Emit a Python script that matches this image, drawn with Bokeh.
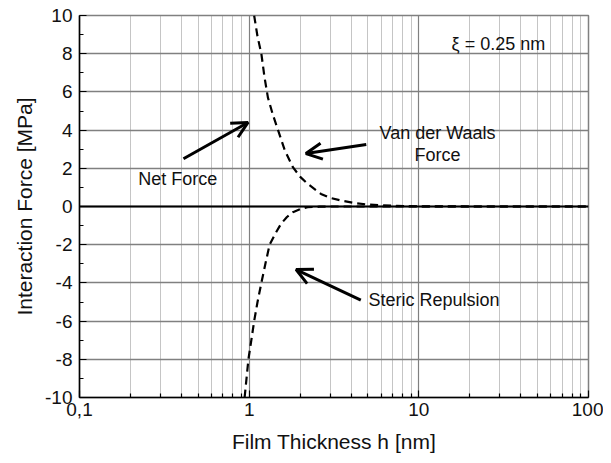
from bokeh.plotting import figure
from bokeh.models import (FixedTicker, CustomJSTickFormatter, Span, Arrow,
                          OpenHead, Label, Range1d)
from bokeh.embed import file_html
from bokeh.resources import INLINE

# ---- data ----
vdw_h = [1.07, 1.12, 1.18, 1.23, 1.29, 1.38, 1.48, 1.62, 1.81, 2.0, 2.21,
         2.65, 3.0, 3.48, 4.2, 5.0, 7.0, 10, 20, 50, 100]
vdw_f = [10.0, 8.9, 8.0, 6.8, 5.7, 4.8, 4.0, 2.95, 2.06, 1.55, 1.19,
         0.66, 0.45, 0.31, 0.18, 0.10, 0.04, 0.01, 0.0, 0.0, 0.0]
steric_h = [0.94, 0.99, 1.03, 1.07, 1.12, 1.18, 1.25, 1.32, 1.43, 1.54,
            1.67, 1.81, 2.0, 2.21, 2.6, 3.0, 5.0, 10, 100]
steric_f = [-10.0, -8.0, -7.0, -6.0, -5.0, -4.0, -2.95, -2.0, -1.4, -0.91,
            -0.55, -0.30, -0.14, -0.04, -0.01, 0.0, 0.0, 0.0, 0.0]

x_major = [0.1, 1, 10, 100]
x_minor = [0.2, 0.3, 0.4, 0.5, 0.6, 0.7, 0.8, 0.9,
           2, 3, 4, 5, 6, 7, 8, 9,
           20, 30, 40, 50, 60, 70, 80, 90]
y_major = [-10, -8, -6, -4, -2, 0, 2, 4, 6, 8, 10]
y_minor = [-9, -7, -5, -3, -1, 1, 3, 5, 7, 9]

FONT = "Liberation Sans"

p = figure(width=603, height=455, x_axis_type="log",
           x_range=Range1d(0.1, 100), y_range=Range1d(-10, 10),
           output_backend="svg", toolbar_location=None,
           min_border_left=79, min_border_right=15,
           min_border_top=15, min_border_bottom=58)
p.background_fill_color = "white"
p.border_fill_color = "white"
p.outline_line_color = "#808080"
p.outline_line_width = 1.5

# axes
p.xaxis.ticker = FixedTicker(ticks=x_major, minor_ticks=x_minor)
p.yaxis.ticker = FixedTicker(ticks=y_major, minor_ticks=y_minor)
p.xaxis.formatter = CustomJSTickFormatter(
    code="return String(tick).replace('.', ',');")
p.yaxis.formatter = CustomJSTickFormatter(
    code="return String(tick);")
for ax in (p.xaxis[0], p.yaxis[0]):
    ax.axis_line_color = "black"
    ax.axis_line_width = 1.5
    ax.major_tick_in = 7
    ax.major_tick_out = 0
    ax.minor_tick_in = 4
    ax.minor_tick_out = 0
    ax.major_tick_line_color = "black"
    ax.minor_tick_line_color = "black"
    ax.major_tick_line_width = 1.2
    ax.minor_tick_line_width = 1.2
    ax.major_label_text_font = FONT
    ax.major_label_text_font_size = "19px"
    ax.major_label_text_color = "#111111"
    ax.axis_label_text_font = FONT
    ax.axis_label_text_font_size = "21px"
    ax.axis_label_text_font_style = "normal"
    ax.axis_label_text_color = "#111111"

p.xaxis.axis_label = "Film Thickness h [nm]"
p.yaxis.axis_label = "Interaction Force [MPa]"
p.xaxis.major_label_standoff = 5
p.xaxis.axis_label_standoff = 11
p.yaxis.major_label_standoff = 7
p.yaxis.axis_label_standoff = 6

# grids
p.xgrid.grid_line_color = "#808080"
p.xgrid.grid_line_width = 1.2
p.xgrid.minor_grid_line_color = "#8a8a8a"
p.xgrid.minor_grid_line_dash = "1 1"
p.xgrid.minor_grid_line_width = 1
p.ygrid.grid_line_color = "#808080"
p.ygrid.grid_line_width = 1.5
p.ygrid.minor_grid_line_color = None

p.add_layout(Span(location=0, dimension="width", line_color="black",
                  line_width=2))

# curves
p.line(vdw_h, vdw_f, line_color="black", line_width=2.2, line_dash="8 5")
p.line(steric_h, steric_f, line_color="black", line_width=2.2, line_dash="8 5")

# annotations
def arrow(x0, y0, x1, y1):
    p.add_layout(Arrow(end=OpenHead(size=16, line_width=3, line_color="black"),
                       x_start=x0, y_start=y0, x_end=x1, y_end=y1,
                       line_width=3, line_color="black"))

arrow(0.41, 2.5, 0.985, 4.4)
arrow(4.9, 3.25, 2.16, 2.77)
arrow(4.55, -4.9, 1.89, -3.3)

def label(x, y, t, align="left"):
    p.add_layout(Label(x=x, y=y, text=t, text_font=FONT,
                       text_font_size="18px", text_align=align,
                       text_baseline="middle", text_color="#111111"))

label(0.222, 1.45, "Net Force")
label(12.9, 3.85, "Van der Waals", "center")
label(12.9, 2.72, "Force", "center")
label(5.05, -4.9, "Steric Repulsion")
label(15.6, 8.53, "\u03be = 0.25 nm")

open("out.html", "w").write(file_html(p, INLINE))
